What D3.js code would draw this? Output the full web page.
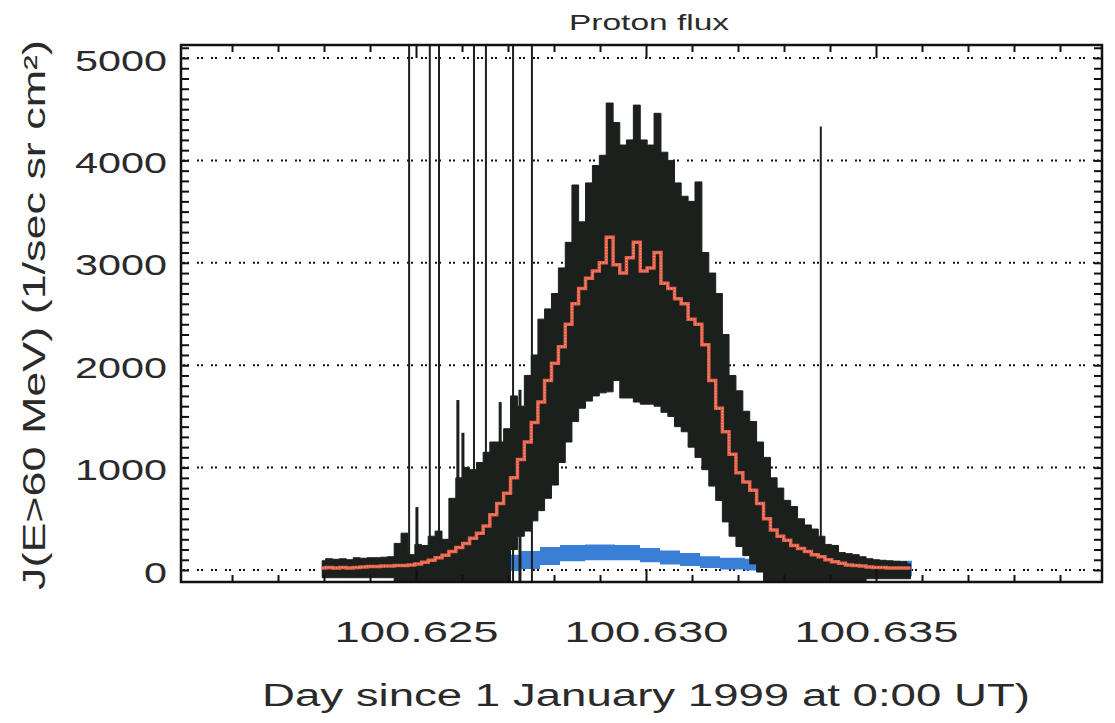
<!DOCTYPE html>
<html>
<head>
<meta charset="utf-8">
<script src="https://cdn.jsdelivr.net/npm/d3@7"></script>
<style>
  body { margin: 0; background: #fff; }
  text { font-family: "Liberation Sans", Arial, sans-serif; fill: #2a2a2a; }
</style>
</head>
<body>
<svg id="chart" width="1115" height="723"></svg>
<script>
// sample times (day of 1999) for the binned flux
const times = [
  100.62296, 100.62311, 100.62326, 100.62341, 100.62356, 100.62371, 100.62386, 100.62401, 100.62416, 100.62430,
  100.62445, 100.62460, 100.62475, 100.62490, 100.62505, 100.62519, 100.62534, 100.62549, 100.62564, 100.62579,
  100.62594, 100.62609, 100.62624, 100.62639, 100.62653, 100.62668, 100.62683, 100.62698, 100.62713, 100.62728,
  100.62743, 100.62758, 100.62772, 100.62787, 100.62802, 100.62817, 100.62832, 100.62846, 100.62861, 100.62876,
  100.62891, 100.62906, 100.62921, 100.62936, 100.62950, 100.62965, 100.62980, 100.62995, 100.63010, 100.63025,
  100.63040, 100.63055, 100.63069, 100.63084, 100.63099, 100.63114, 100.63129, 100.63144, 100.63159, 100.63173,
  100.63188, 100.63203, 100.63218, 100.63233, 100.63248, 100.63263, 100.63278, 100.63292, 100.63307, 100.63322,
  100.63337, 100.63352, 100.63367, 100.63382, 100.63396, 100.63411, 100.63426, 100.63441, 100.63456, 100.63471,
  100.63486, 100.63501, 100.63515, 100.63530, 100.63545, 100.63560, 100.63575
];

const fluxMax = [
  90, 110, 105, 110, 100, 120, 115, 120, 120, 125,
  130, 260, 360, 150, 250, 240, 330, 380, 300, 700,
  900, 1000, 980, 1050, 1150, 1250, 1250, 1380, 1700, 1600,
  1900, 2100, 2450, 2550, 2700, 2950, 3200, 3760, 3400, 3780,
  3950, 4050, 4560, 4370, 4150, 4200, 4540, 4200, 4150, 4460,
  4080, 4000, 3780, 3650, 3600, 3790, 3100, 2900, 2700, 2300,
  1900, 1750, 1550, 1450, 1250, 1100, 900, 800, 680, 620,
  500, 440, 400, 330, 250, 240, 170, 160, 150, 130,
  110, 100, 95, 90, 85, 80, 60
];

const fluxMin = [
  -75, -75, -75, -75, -75, -75, -75, -75, -75, -75,
  -75, -110, -110, -110, -110, -110, -110, -110, -110, -110,
  -110, -110, -110, -110, -110, -110, -110, -110, 200, 330,
  380, 480, 580, 700, 830, 1050, 1250, 1450, 1580, 1650,
  1700, 1730, 1740, 1850, 1680, 1680, 1640, 1620, 1620, 1600,
  1540, 1500, 1400, 1350, 1200, 1100, 980, 820, 680, 470,
  330, 230, 140, 60, -20, -110, -110, -110, -110, -110,
  -110, -110, -110, -110, -110, -110, -110, -110, -110, -110,
  -85, -85, -85, -85, -85, -85, -85
];

const fluxMean = [
  20, 25, 20, 25, 20, 25, 30, 35, 35, 40,
  40, 45, 45, 50, 60, 75, 95, 120, 145, 180,
  220, 260, 310, 360, 430, 540, 650, 750, 900, 1080,
  1250, 1440, 1640, 1850, 2020, 2180, 2400, 2600, 2750, 2850,
  2920, 3000, 3250, 2980, 2900, 3050, 3200, 2920, 2950, 3100,
  2800, 2750, 2650, 2600, 2450, 2400, 2200, 1850, 1580, 1350,
  1130, 950, 860, 780, 650, 500, 390, 330, 290, 240,
  210, 180, 150, 130, 100, 80, 65, 50, 45, 40,
  30, 25, 25, 20, 20, 20, 20
];

// single samples that shoot above the rest
const spikeTimes = [100.62485, 100.62530, 100.62550, 100.62626, 100.62652, 100.62711, 100.62752, 100.63380,
  100.62502, 100.62591, 100.62602, 100.62683, 100.62726];
const spikeValues = [6000, 6000, 6000, 6000, 6000, 6000, 6000, 4330,
  615, 1660, 1340, 1640, 1760];

// blue model band
const blueTimes = [
  100.62296, 100.62378, 100.62509, 100.62639, 100.62709, 100.62748, 100.62791, 100.62835, 100.62900, 100.62965,
  100.63009, 100.63052, 100.63096, 100.63139, 100.63183, 100.63248, 100.63378, 100.63509, 100.63578
];
const blueLow = [-60, -50, -30, -15, -10, 10, 50, 85, 95, 95, 75, 55, 40, 20, 5, -5, -20, -40, -60];
const blueHigh = [90, 100, 120, 140, 150, 185, 225, 245, 250, 245, 215, 190, 165, 135, 120, 110, 100, 90, 90];

// blue markers peeking out at both ends
const blueTailTimes = [100.62302, 100.62315, 100.62328, 100.62341, 100.62354, 100.62367, 100.63546, 100.63559, 100.63572];
const blueTailValues = [40, 10, 55, 15, 45, 20, 30, 60, 20];

const xMajorTicks = [100.625, 100.630, 100.635];
const xMinorTicks = [100.621, 100.622, 100.623, 100.624, 100.626, 100.627, 100.628, 100.629,
  100.631, 100.632, 100.633, 100.634, 100.636, 100.637, 100.638, 100.639];
const yMajorTicks = [0, 1000, 2000, 3000, 4000, 5000];

const frame = { left: 181, right: 1102, top: 45, bottom: 582 };
const blackColor = "#1b201c";
const redColor = "#e5614a";
const blueColor = "#3a7fd6";

const svg = d3.select("#chart");

const x = d3.scaleLinear().domain([100.619891, 100.639913]).range([frame.left, frame.right]);
const y = d3.scaleLinear().domain([-117, 5127]).range([frame.bottom, frame.top]);

svg.append("defs").append("clipPath").attr("id", "plot-clip")
  .append("rect")
  .attr("x", frame.left).attr("y", frame.top)
  .attr("width", frame.right - frame.left).attr("height", frame.bottom - frame.top);

// dotted grid lines
svg.append("g")
  .selectAll("line")
  .data(yMajorTicks)
  .enter()
  .append("line")
  .attr("x1", frame.left + 2)
  .attr("x2", frame.right)
  .attr("y1", (d) => y(d))
  .attr("y2", (d) => y(d))
  .attr("stroke", "#111")
  .attr("stroke-width", 2)
  .attr("stroke-dasharray", "2,2,2,8");

const plot = svg.append("g").attr("clip-path", "url(#plot-clip)");

const flux = times.map((t, i) => ({ t: t, lo: fluxMin[i], hi: fluxMax[i], mean: fluxMean[i] }));
const blue = blueTimes.map((t, i) => ({ t: t, lo: blueLow[i], hi: blueHigh[i] }));

plot.append("path")
  .datum(blue)
  .attr("fill", blueColor)
  .attr("d", d3.area().x((d) => x(d.t)).y0((d) => y(d.lo)).y1((d) => y(d.hi)).curve(d3.curveStep));

// min/max envelope
plot.append("path")
  .datum(flux)
  .attr("fill", blackColor)
  .attr("stroke", blackColor)
  .attr("stroke-width", 1)
  .attr("d", d3.area().x((d) => x(d.t)).y0((d) => y(d.lo)).y1((d) => y(d.hi)).curve(d3.curveStep));

plot.append("g")
  .selectAll("line")
  .data(spikeTimes)
  .enter()
  .append("line")
  .attr("x1", (d) => x(d))
  .attr("x2", (d) => x(d))
  .attr("y1", y(-117))
  .attr("y2", (d, i) => y(spikeValues[i]))
  .attr("stroke", blackColor)
  .attr("stroke-width", (d, i) => (spikeValues[i] > 4000 ? 2 : 3));

// mean
plot.append("path")
  .datum(flux)
  .attr("fill", "none")
  .attr("stroke", redColor)
  .attr("stroke-width", 3.5)
  .attr("d", d3.line().x((d) => x(d.t)).y((d) => y(d.mean)).curve(d3.curveStep));

plot.append("path")
  .datum(flux)
  .attr("fill", "none")
  .attr("stroke", "#f7b7a6")
  .attr("stroke-width", 1)
  .attr("stroke-dasharray", "1,2")
  .attr("d", d3.line().x((d) => x(d.t)).y((d) => y(d.mean)).curve(d3.curveStep));

plot.append("g")
  .selectAll("path")
  .data(blueTailTimes)
  .enter()
  .append("path")
  .attr("transform", (d, i) => `translate(${x(d)},${y(blueTailValues[i])})`)
  .attr("d", d3.symbol(d3.symbolX).size(70))
  .attr("fill", blueColor);

// frame
svg.append("rect")
  .attr("x", frame.left).attr("y", frame.top)
  .attr("width", frame.right - frame.left).attr("height", frame.bottom - frame.top)
  .attr("fill", "none")
  .attr("stroke", "#111")
  .attr("stroke-width", 2.5);

const tickStyle = (g) => {
  g.select(".domain").remove();
  g.selectAll(".tick line").attr("stroke", "#111").attr("stroke-width", 2);
};

// bottom axis
svg.append("g")
  .attr("transform", `translate(0,${frame.bottom})`)
  .call(d3.axisBottom(x).tickValues(xMinorTicks).tickSize(-7).tickFormat(""))
  .call(tickStyle);

const xLabels = svg.append("g")
  .attr("transform", `translate(0,${frame.bottom})`)
  .call(d3.axisBottom(x).tickValues(xMajorTicks).tickSize(-13).tickPadding(39).tickFormat(d3.format(".3f")))
  .call(tickStyle);
xLabels.selectAll("text")
  .attr("font-size", 30)
  .attr("font-family", "Liberation Sans")
  .attr("fill", "#2a2a2a")
  .attr("textLength", 164)
  .attr("lengthAdjust", "spacingAndGlyphs");

// top axis
svg.append("g")
  .attr("transform", `translate(0,${frame.top})`)
  .call(d3.axisTop(x).tickValues(xMinorTicks).tickSize(-7).tickFormat(""))
  .call(tickStyle);
svg.append("g")
  .attr("transform", `translate(0,${frame.top})`)
  .call(d3.axisTop(x).tickValues(xMajorTicks).tickSize(-13).tickFormat(""))
  .call(tickStyle);

// left / right minor ticks every 100
const yMinorTicks = d3.range(0, 5101, 100);
svg.append("g")
  .attr("transform", `translate(${frame.left},0)`)
  .call(d3.axisLeft(y).tickValues(yMinorTicks).tickSize(-8).tickFormat(""))
  .call(tickStyle);
svg.append("g")
  .attr("transform", `translate(${frame.right},0)`)
  .call(d3.axisRight(y).tickValues(yMinorTicks).tickSize(-8).tickFormat(""))
  .call(tickStyle);

const yLabels = svg.append("g")
  .attr("transform", `translate(${frame.left},0)`)
  .call(d3.axisLeft(y).tickValues(yMajorTicks).tickSize(0).tickPadding(14).tickFormat(d3.format("d")))
  .call(tickStyle);
yLabels.selectAll("text")
  .attr("font-size", 30)
  .attr("font-family", "Liberation Sans")
  .attr("fill", "#2a2a2a")
  .attr("dy", "0.40em")
  .attr("textLength", (d) => String(d).length * 23)
  .attr("lengthAdjust", "spacingAndGlyphs");

// titles
svg.append("text")
  .attr("x", 649)
  .attr("y", 30)
  .attr("text-anchor", "middle")
  .attr("font-size", 22)
  .attr("textLength", 160)
  .attr("lengthAdjust", "spacingAndGlyphs")
  .text("Proton flux");

svg.append("text")
  .attr("x", 646)
  .attr("y", 706)
  .attr("text-anchor", "middle")
  .attr("font-size", 31)
  .attr("textLength", 768)
  .attr("lengthAdjust", "spacingAndGlyphs")
  .text("Day since 1 January 1999 at 0:00 UT)");

svg.append("text")
  .attr("transform", "translate(45,315) rotate(-90)")
  .attr("text-anchor", "middle")
  .attr("font-size", 31)
  .attr("textLength", 550)
  .attr("lengthAdjust", "spacingAndGlyphs")
  .text("J(E>60 MeV) (1/sec sr cm²)");
</script>
</body>
</html>
